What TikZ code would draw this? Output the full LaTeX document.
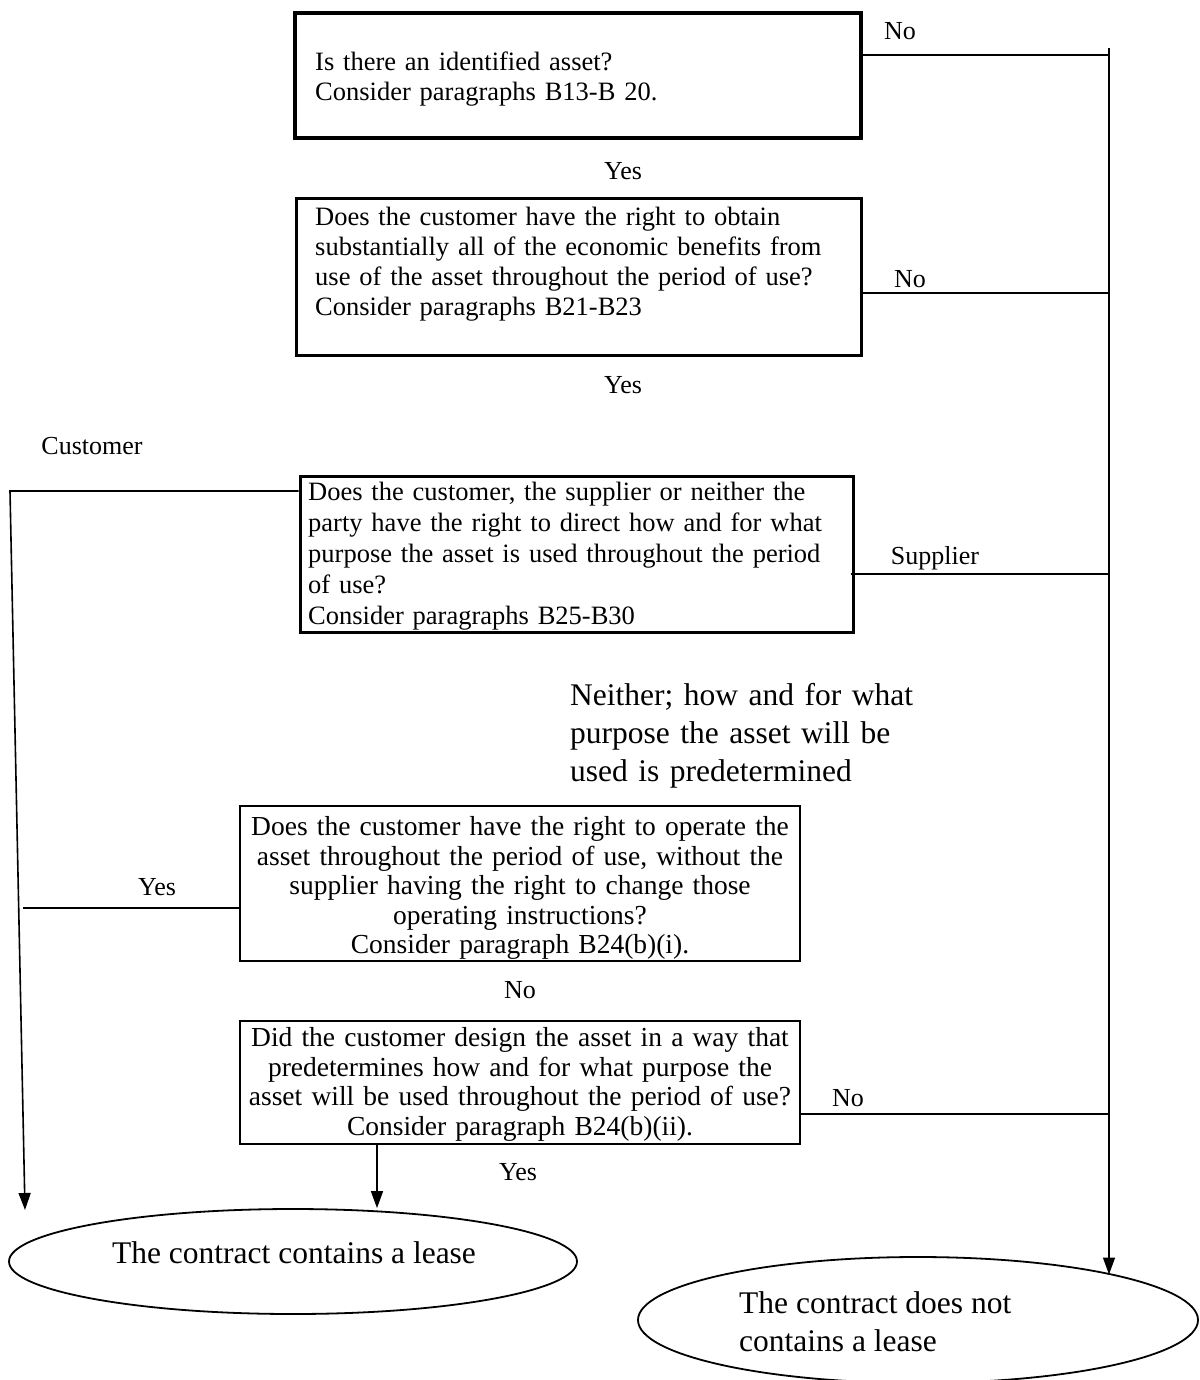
\documentclass[tikz,border=0pt]{standalone}
\usepackage{fontspec}
\setmainfont{Liberation Serif}
\usetikzlibrary{arrows.meta,calc,shapes.geometric}
\begin{document}
\begin{tikzpicture}[x=1pt,y=-1pt,
  qbox/.style={draw, rectangle, line width=3pt, inner sep=0pt},
  endshape/.style={draw, ellipse, line width=1.8pt, inner sep=0pt},
  qtext/.style={inner sep=0pt, align=left, font=\fontsize{26.5}{30}\selectfont},
  ctext/.style={inner sep=0pt, align=center, font=\fontsize{27.5}{29.5}\selectfont},
  lbl/.style={inner sep=0pt, font=\fontsize{26}{30}\selectfont},
  bigtext/.style={inner sep=0pt, align=left, font=\fontsize{31.5}{38}\selectfont},
  conn/.style={line width=1.8pt},
  arr/.style={line width=1.6pt, -{Triangle[length=17pt,width=12pt]}},
]
\path[use as bounding box, fill=white] (0,0) rectangle (1199,1380);

% boxes
\node[qbox, line width=3.5pt, minimum width=566pt, minimum height=125pt] (b1) at (578,75.5) {};
\node[qbox, minimum width=565pt, minimum height=156pt] (b2) at (578.5,277) {};
\node[qbox, minimum width=553pt, minimum height=156pt] (b3) at (576.5,554) {};
\node[qbox, line width=2.6pt, minimum width=560pt, minimum height=155pt] (b4) at (520,883.5) {};
\node[qbox, line width=2.6pt, minimum width=560pt, minimum height=123pt] (b5) at (520,1082.5) {};
\node[endshape, minimum width=568pt, minimum height=105pt] (e1) at (293,1261.5) {};
\node[endshape, minimum width=560pt, minimum height=126pt] (e2) at (918,1320) {};

% box texts
\node[qtext, text width=530pt, anchor=west] (t1) at (315,79)
  {Is there an identified asset?\\Consider paragraphs B13-B 20.};
\node[qtext, text width=530pt, anchor=west] (t2) at (315,264)
  {\makebox[530pt][s]{Does the customer have the right to obtain}\\
   \makebox[530pt][s]{substantially all of the economic benefits from}\\
   use of the asset throughout the period of use?\\
   Consider paragraphs B21-B23};
\node[qtext, text width=514pt, anchor=west, font=\fontsize{26.5}{31}\selectfont] (t3) at (308,556)
  {\makebox[514pt][s]{Does the customer, the supplier or neither the}\\
   \makebox[514pt][s]{party have the right to direct how and for what}\\
   \makebox[514pt][s]{purpose the asset is used throughout the period}\\
   of use?\\
   Consider paragraphs B25-B30};
\node[ctext, text width=550pt] (t4) at (520,888)
  {Does the customer have the right to operate the\\
   asset throughout the period of use, without the\\
   supplier having the right to change those\\
   operating instructions?\\
   Consider paragraph B24(b)(i).};
\node[ctext, text width=550pt] (t5) at (520,1084.5)
  {Did the customer design the asset in a way that\\
   predetermines how and for what purpose the\\
   asset will be used throughout the period of use?\\
   Consider paragraph B24(b)(ii).};
\node[bigtext, text width=351pt, anchor=west] (nei) at (570,736)
  {Neither; how and for what\\
   \makebox[351pt][s]{purpose the asset will be}\\
   used is predetermined};
\node[bigtext, align=center] (e1t) at (294,1253) {The contract contains a lease};
\node[bigtext, anchor=west] (e2t) at (739,1322) {The contract does not\\contains a lease};

% labels
\node[lbl] (no1) at (900,31) {No};
\node[lbl] (yes1) at (623,171) {Yes};
\node[lbl] (no2) at (910,279) {No};
\node[lbl] (yes2) at (623,385) {Yes};
\node[lbl] (cust) at (92,446) {Customer};
\node[lbl] (supp) at (935,558) {Supplier};
\node[lbl] (yes4) at (157,887) {Yes};
\node[lbl] (no4) at (520,990) {No};
\node[lbl] (no5) at (848,1098) {No};
\node[lbl] (yes5) at (518,1172) {Yes};

% rail coordinates
\coordinate (rtop) at (1109,48);
\coordinate (r1) at (1109,55);
\coordinate (r2) at (1109,293);
\coordinate (r3) at (1109,574);
\coordinate (r5) at (1109,1114);
\coordinate (cl) at (10,491);
\coordinate (ctip) at (25,1210);
\coordinate (yl) at (23,908);

% connectors
\draw[arr] (rtop) -- (rtop |- e2.13.5);
\draw[conn] (b1.east |- r1) -- (r1);
\draw[conn] (b2.east |- r2) -- (r2);
\draw[conn] ([xshift=-4pt]b3.east |- r3) -- (r3);
\draw[conn] (b5.east |- r5) -- (r5);
\draw[arr] (b3.west |- cl) -- (cl) -- (ctip);
\draw[conn] (b4.west |- yl) -- (yl);
\draw[arr] ([xshift=-143pt]b5.south) -- ([xshift=-143pt]b5.south |- e1.north);
\end{tikzpicture}
\end{document}
